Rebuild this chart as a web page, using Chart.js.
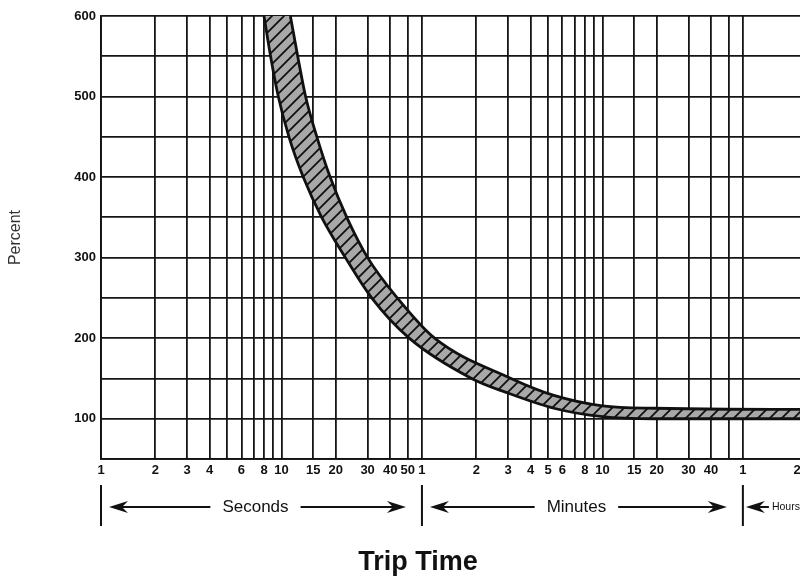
<!DOCTYPE html>
<html>
<head>
<meta charset="utf-8">
<script src="https://cdn.jsdelivr.net/npm/chart.js"></script>
<style>
html,body{margin:0;padding:0;overflow:hidden;background:#fff;width:800px;height:576px;}
#wrap{position:relative;width:829px;height:576px;}
</style>
</head>
<body>
<div id="wrap"><canvas id="c"></canvas></div>
<script>
// ---- x axis: trip time in seconds (log scale) ----
const tickSeconds = [1,2,3,4,5,6,7,8,9,10,15,20,30,40,50,60,
                     120,180,240,300,360,420,480,540,600,900,1200,1800,2400,3000,3600,7200];
const tickLabels  = ['1','2','3','4','','6','','8','','10','15','20','30','40','50','1',
                     '2','3','4','5','6','','8','','10','15','20','30','40','','1','2'];
const xMin = 1, xMax = 10800;

// ---- y axis: percent ----
const yMin = 50, yMax = 600, yStep = 50;

// ---- band: lower (fastest) trip curve ----
const lowerTimes = [8.0, 8.7, 9.6, 11.0, 13.2, 16.7, 22.6, 31.6, 51, 113, 174, 323, 600, 1160, 10800];
const lowerPct   = [600, 550, 500, 450, 400, 350, 300, 250, 200, 150, 133, 113, 102.5, 100, 100];
// ---- band: upper (slowest) trip curve ----
const upperTimes = [11.2, 12.3, 13.6, 15.7, 18.6, 23.0, 30.0, 43.8, 70.5, 187, 323, 600, 1160, 10800];
const upperPct   = [600, 550, 500, 450, 400, 350, 300, 250, 200, 150, 129, 116, 113, 111.5];

// ---- period annotations ----
const periodBounds = [1, 60, 3600];
const periodNames  = ['Seconds', 'Minutes', 'Hours'];
const xTitle = 'Trip Time';
const yTitle = 'Percent';

const FONT = '"Liberation Sans", Arial, Helvetica, sans-serif';

// hatch pattern
function makePattern(){
  const s = 12;
  const pc = document.createElement('canvas');
  pc.width = s; pc.height = s;
  const g = pc.getContext('2d');
  g.fillStyle = '#a8a8a8';
  g.fillRect(0,0,s,s);
  g.strokeStyle = '#111';
  g.lineWidth = 1.8;
  g.beginPath();
  g.moveTo(-1, s+1); g.lineTo(s+1, -1);
  g.moveTo(-3, 3); g.lineTo(3, -3);
  g.moveTo(s-3, s+3); g.lineTo(s+3, s-3);
  g.stroke();
  return g.createPattern(pc, 'repeat');
}

const bandPoints = lowerTimes.map((t,i)=>({x:t, y:lowerPct[i]}))
  .concat(upperTimes.map((t,i)=>({x:t, y:upperPct[i]})).reverse());

function arrow(ctx, tip, tail, y){
  const d = Math.sign(tip - tail);
  ctx.beginPath();
  ctx.lineWidth = 2;
  ctx.moveTo(tail, y); ctx.lineTo(tip - d*10, y);
  ctx.stroke();
  ctx.beginPath();
  ctx.moveTo(tip, y);
  ctx.lineTo(tip - d*19, y - 6);
  ctx.lineTo(tip - d*13, y);
  ctx.lineTo(tip - d*19, y + 6);
  ctx.closePath();
  ctx.fill();
}

const annotations = {
  id: 'annotations',
  afterDraw(chart){
    const ctx = chart.ctx;
    const bottom = chart.chartArea.bottom;
    const xs = chart.scales.x;
    const px = periodBounds.map(v => xs.getPixelForValue(v));
    const ya = bottom + 48;
    ctx.save();
    ctx.strokeStyle = '#111';
    ctx.fillStyle = '#111';
    ctx.lineWidth = 2;
    px.forEach(p => {
      ctx.beginPath();
      ctx.moveTo(p, bottom + 26);
      ctx.lineTo(p, bottom + 67);
      ctx.stroke();
    });
    ctx.font = '17px ' + FONT;
    ctx.textBaseline = 'middle';
    ctx.textAlign = 'center';
    for (let i = 0; i < 2; i++){
      const a = px[i], b = px[i+1], mid = (a+b)/2 - 6;
      const w = ctx.measureText(periodNames[i]).width;
      ctx.fillText(periodNames[i], mid, ya);
      arrow(ctx, a + 8, mid - w/2 - 12, ya);
      arrow(ctx, b - 16, mid + w/2 + 12, ya);
    }
    arrow(ctx, px[2] + 3, px[2] + 26, ya);
    ctx.font = '10.5px ' + FONT;
    ctx.textAlign = 'left';
    ctx.fillText(periodNames[2], px[2] + 29, ya);
    ctx.font = 'bold 27px ' + FONT;
    ctx.textAlign = 'center';
    ctx.textBaseline = 'alphabetic';
    ctx.fillText(xTitle, 418, bottom + 111);
    ctx.restore();
  }
};

new Chart(document.getElementById('c'), {
  type: 'line',
  data: {
    datasets: [{
      data: bandPoints,
      borderColor: '#111',
      borderWidth: 2.8,
      backgroundColor: makePattern(),
      fill: 'shape',
      pointRadius: 0,
      cubicInterpolationMode: 'monotone',
      clip: 0
    }]
  },
  options: {
    responsive: true,
    maintainAspectRatio: false,
    animation: false,
    events: [],
    layout: { padding: { top: 16, left: 0, right: 0, bottom: 0 } },
    plugins: { legend: { display: false }, tooltip: { enabled: false } },
    scales: {
      x: {
        type: 'logarithmic',
        min: xMin, max: xMax,
        afterBuildTicks(scale){ scale.ticks = tickSeconds.map(v => ({ value: v })); },
        afterFit(scale){ scale.height = 117; },
        grid: {
          drawTicks: false,
          lineWidth: 1.8,
          color: (c) => (c.tick && c.tick.value === 7200) ? 'rgba(0,0,0,0)' : '#151515'
        },
        border: { display: true, color: '#111', width: 1.8 },
        ticks: {
          autoSkip: false, maxRotation: 0, minRotation: 0, padding: 4,
          color: '#111',
          font: { family: FONT, size: 13, weight: 'bold' },
          callback: (v, i) => tickLabels[i]
        }
      },
      y: {
        type: 'linear',
        min: yMin, max: yMax,
        afterFit(scale){ scale.width = 101; },
        grid: { drawTicks: false, lineWidth: 1.8, color: '#151515' },
        border: { display: true, color: '#111', width: 1.8 },
        ticks: {
          stepSize: yStep, padding: 5, color: '#111',
          font: { family: FONT, size: 13, weight: 'bold' },
          callback: (v) => (v % 100 === 0 ? String(v) : '')
        },
        title: {
          display: true, text: yTitle, color: '#333',
          font: { family: FONT, size: 16 },
          padding: { top: 6, bottom: 0 }
        }
      }
    }
  },
  plugins: [annotations]
});
</script>
</body>
</html>
